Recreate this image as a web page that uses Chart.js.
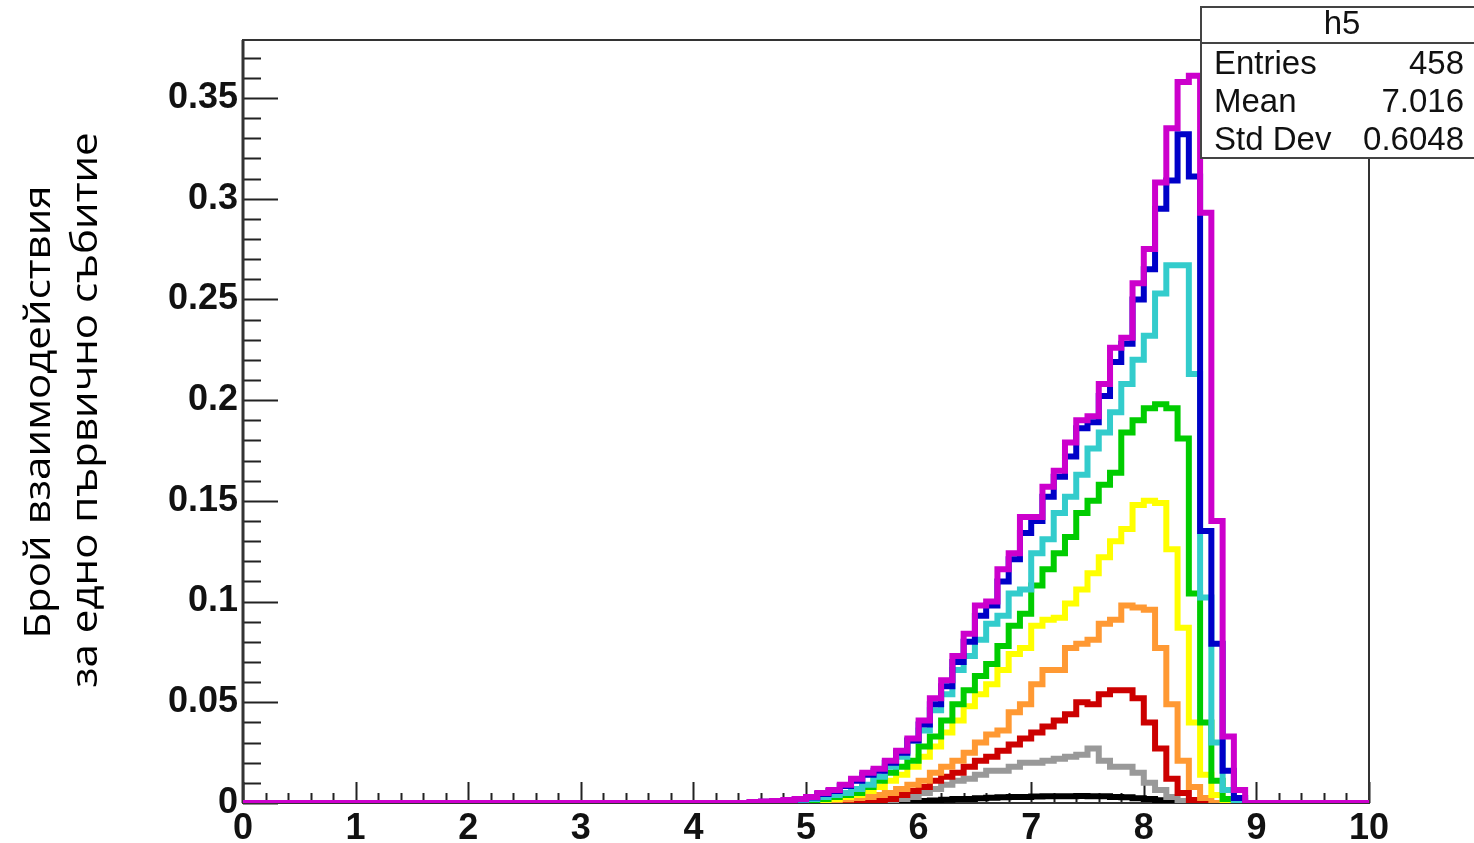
<!DOCTYPE html>
<html>
<head>
<meta charset="utf-8">
<title>h5</title>
<script src="https://cdn.jsdelivr.net/npm/chart.js@4.4.1/dist/chart.umd.min.js"></script>
<style>
    html, body { margin: 0; padding: 0; background: #fff; }
    canvas { display: block; }
</style>
</head>
<body>
<canvas id="h5Chart" width="1474" height="843"></canvas>
<script>
// histogram h5: 100 bins of 0.1 on [0, 10]; only bins 45..89 (x = 4.5 .. 9.0) are non-empty
const N_BINS = 100;
const BIN_WIDTH = 0.1;
const FIRST_BIN = 45;

const magentaBins = [
    0.0005, 0.0007, 0.001, 0.0015, 0.002,
    0.003, 0.005, 0.0065, 0.009, 0.012,
    0.015, 0.017, 0.021, 0.026, 0.032,
    0.041, 0.052, 0.061, 0.073, 0.084,
    0.098, 0.100, 0.116, 0.124, 0.142,
    0.142, 0.157, 0.165, 0.179, 0.190,
    0.192, 0.208, 0.226, 0.231, 0.258,
    0.275, 0.308, 0.335, 0.358, 0.361,
    0.293, 0.140, 0.033, 0.0065, 0
];
const blueBins = [
    0.0004, 0.0006, 0.0009, 0.0013, 0.0018,
    0.0027, 0.0045, 0.006, 0.0085, 0.011,
    0.014, 0.016, 0.020, 0.025, 0.031,
    0.039, 0.049, 0.058, 0.070, 0.080,
    0.093, 0.098, 0.110, 0.121, 0.134,
    0.140, 0.152, 0.162, 0.172, 0.186,
    0.189, 0.202, 0.219, 0.228, 0.250,
    0.265, 0.295, 0.309, 0.332, 0.311,
    0.135, 0.079, 0.016, 0.0025, 0
];
const cyanBins = [
    0.0002, 0.0003, 0.0005, 0.0008, 0.0012,
    0.002, 0.003, 0.004, 0.005, 0.007,
    0.009, 0.013, 0.018, 0.023, 0.031,
    0.036, 0.046, 0.054, 0.066, 0.073,
    0.081, 0.089, 0.093, 0.104, 0.106,
    0.124, 0.131, 0.144, 0.152, 0.163,
    0.176, 0.184, 0.194, 0.208, 0.220,
    0.232, 0.253, 0.267, 0.267, 0.213,
    0.102, 0.030, 0.0065, 0.001, 0
];
const greenBins = [
    0.0001, 0.0002, 0.0003, 0.0005, 0.0008,
    0.0012, 0.002, 0.003, 0.004, 0.005,
    0.008, 0.011, 0.015, 0.018, 0.021,
    0.028, 0.033, 0.041, 0.049, 0.056,
    0.063, 0.069, 0.078, 0.088, 0.094,
    0.108, 0.116, 0.124, 0.132, 0.144,
    0.150, 0.158, 0.164, 0.184, 0.190,
    0.196, 0.198, 0.196, 0.181, 0.104,
    0.040, 0.011, 0.002, 0, 0
];
const yellowBins = [
    0, 0.0001, 0.0002, 0.0003, 0.0005,
    0.0008, 0.0012, 0.002, 0.003, 0.004,
    0.006, 0.008, 0.011, 0.014, 0.018,
    0.023, 0.028, 0.035, 0.041, 0.048,
    0.054, 0.059, 0.066, 0.074, 0.077,
    0.088, 0.091, 0.092, 0.099, 0.106,
    0.114, 0.122, 0.130, 0.136, 0.148,
    0.150, 0.149, 0.126, 0.087, 0.040,
    0.014, 0.004, 0.0005, 0, 0
];
const orangeBins = [
    0, 0, 0.0001, 0.0002, 0.0003,
    0.0005, 0.0008, 0.0012, 0.0018, 0.0025,
    0.003, 0.004, 0.005, 0.007, 0.009,
    0.011, 0.015, 0.018, 0.021, 0.025,
    0.030, 0.034, 0.036, 0.045, 0.049,
    0.059, 0.066, 0.066, 0.077, 0.079,
    0.081, 0.089, 0.091, 0.098, 0.097,
    0.096, 0.077, 0.049, 0.021, 0.008,
    0.0025, 0, 0, 0, 0
];
const redBins = [
    0, 0, 0, 0, 0.0001,
    0.0002, 0.0003, 0.0004, 0.0006, 0.0008,
    0.001, 0.0015, 0.002, 0.004, 0.006,
    0.008, 0.011, 0.013, 0.015, 0.018,
    0.021, 0.023, 0.026, 0.029, 0.032,
    0.035, 0.038, 0.041, 0.044, 0.050,
    0.049, 0.054, 0.056, 0.056, 0.052,
    0.040, 0.027, 0.012, 0.005, 0.0015,
    0, 0, 0, 0, 0
];
const grayBins = [
    0, 0, 0, 0, 0,
    0, 0, 0, 0, 0,
    0.0003, 0.0006, 0.001, 0.002, 0.003,
    0.005, 0.007, 0.009, 0.011, 0.012,
    0.014, 0.016, 0.016, 0.018, 0.020,
    0.020, 0.021, 0.022, 0.023, 0.024,
    0.027, 0.021, 0.018, 0.018, 0.015,
    0.010, 0.0065, 0.003, 0.001, 0,
    0, 0, 0, 0, 0
];
const blackBins = [
    0, 0, 0, 0, 0,
    0, 0, 0, 0, 0,
    0.0001, 0.0002, 0.0003, 0.0005, 0.0008,
    0.001, 0.0013, 0.0016, 0.002, 0.002,
    0.0024, 0.0026, 0.0028, 0.003, 0.003,
    0.0032, 0.0033, 0.0034, 0.0033, 0.0035,
    0.0034, 0.0033, 0.003, 0.0028, 0.0024,
    0.002, 0.0014, 0.0008, 0.0004, 0.0001,
    0, 0, 0, 0, 0
];

// drawn top to bottom: Chart.js paints dataset 0 last
const seriesBins   = [magentaBins, blueBins, cyanBins, greenBins, yellowBins, orangeBins, redBins, grayBins, blackBins];
const seriesColors = ['#cc00cc', '#0000c8', '#33cccc', '#00cc00', '#ffff00', '#ff9933', '#cc0000', '#999999', '#000000'];

const xTicks = [0, 1, 2, 3, 4, 5, 6, 7, 8, 9, 10];
const yTicks = [0, 0.05, 0.1, 0.15, 0.2, 0.25, 0.3, 0.35];
const yTickLabels = ['0', '0.05', '0.1', '0.15', '0.2', '0.25', '0.3', '0.35'];
const Y_MAX = 0.3788;

const yTitleLines = ['Брой взаимодействия', 'за едно първично събитие'];
const statTitle = 'h5';
const statRows = [['Entries', '458'], ['Mean', '7.016'], ['Std Dev', '0.6048']];

function histPoints(bins) {
    const pts = [];
    for (let k = 0; k < N_BINS; k++) {
        const i = k - FIRST_BIN;
        const v = (i >= 0 && i < bins.length) ? bins[i] : 0;
        pts.push({ x: k * BIN_WIDTH, y: v });
    }
    pts.push({ x: N_BINS * BIN_WIDTH, y: 0 });
    return pts;
}

const frameAndTicks = {
    id: 'frameAndTicks',
    beforeDatasetsDraw(chart) {
        const { ctx, chartArea: a, scales: { x, y } } = chart;
        ctx.save();
        ctx.strokeStyle = '#222';
        ctx.lineWidth = 2;
        ctx.beginPath();
        // y ticks: minor every 0.01, major every 0.05
        for (let i = 0; i * 0.01 <= Y_MAX; i++) {
            const py = Math.round(y.getPixelForValue(i * 0.01)) + 0.5;
            const len = (i % 5 === 0) ? 35 : 18;
            ctx.moveTo(a.left, py);
            ctx.lineTo(a.left + len, py);
        }
        // x ticks: minor every 0.2, major every 1
        for (let i = 0; i <= 50; i++) {
            const px = Math.round(x.getPixelForValue(i * 0.2)) + 0.5;
            const len = (i % 5 === 0) ? 21 : 10;
            ctx.moveTo(px, a.bottom);
            ctx.lineTo(px, a.bottom - len);
        }
        ctx.stroke();

        // frame
        ctx.strokeStyle = '#333';
        ctx.lineWidth = 2;
        ctx.strokeRect(a.left, a.top, a.right - a.left, a.bottom - a.top);
        ctx.lineWidth = 3;
        ctx.beginPath();
        ctx.moveTo(a.left, a.top);
        ctx.lineTo(a.left, a.bottom);
        ctx.stroke();
        ctx.restore();
    },
    afterDraw(chart) {
        const ctx = chart.ctx;
        ctx.save();

        // y axis title, two rotated lines
        ctx.fillStyle = '#000';
        ctx.font = '42px "Open Sans"';
        ctx.textAlign = 'center';
        ctx.textBaseline = 'alphabetic';
        [[50, 412], [97, 410]].forEach(([bx, cy], i) => {
            ctx.save();
            ctx.translate(bx, cy);
            ctx.rotate(-Math.PI / 2);
            ctx.scale(1, 0.85);
            ctx.fillText(yTitleLines[i], 0, 0);
            ctx.restore();
        });

        // stats box
        const bx = 1201, by = 7, bw = 290, bh = 151;
        ctx.fillStyle = '#fff';
        ctx.fillRect(bx, by, bw, bh);
        ctx.strokeStyle = '#444';
        ctx.lineWidth = 2;
        ctx.strokeRect(bx, by, bw, bh);
        ctx.beginPath();
        ctx.moveTo(bx, 43);
        ctx.lineTo(bx + bw, 43);
        ctx.stroke();

        ctx.fillStyle = '#111';
        ctx.font = '33px "Liberation Sans"';
        ctx.textBaseline = 'middle';
        ctx.textAlign = 'center';
        ctx.fillText(statTitle, 1342, 25);
        statRows.forEach(([name, val], i) => {
            const ry = 65 + i * 38;
            ctx.textAlign = 'left';
            ctx.fillText(name, 1214, ry);
            ctx.textAlign = 'right';
            ctx.fillText(val, 1464, ry);
        });
        ctx.restore();
    }
};

const datasets = seriesBins.map((bins, i) => ({
    label: 'h5_' + i,
    data: histPoints(bins),
    borderColor: seriesColors[i],
    backgroundColor: seriesColors[i],
    borderWidth: 6,
    stepped: true,
    pointRadius: 0,
    tension: 0,
    fill: false,
    borderJoinStyle: 'miter',
    borderCapStyle: 'butt'
}));

new Chart(document.getElementById('h5Chart'), {
    type: 'line',
    data: { datasets: datasets },
    options: {
        responsive: false,
        animation: false,
        devicePixelRatio: 1,
        layout: { padding: { top: 40, right: 105, bottom: 0, left: 0 } },
        plugins: { legend: { display: false }, tooltip: { enabled: false } },
        scales: {
            x: {
                type: 'linear',
                min: 0,
                max: 10,
                afterBuildTicks: (s) => { s.ticks = xTicks.map(v => ({ value: v })); },
                afterFit: (s) => { s.height = 40; },
                grid: { display: false, drawTicks: false },
                border: { display: false },
                ticks: {
                    padding: 4,
                    maxRotation: 0,
                    color: '#111',
                    font: { family: 'Liberation Sans', weight: 'bold', size: 36 },
                    callback: (v) => String(v)
                }
            },
            y: {
                type: 'linear',
                min: 0,
                max: Y_MAX,
                afterBuildTicks: (s) => { s.ticks = yTicks.map(v => ({ value: v })); },
                afterFit: (s) => { s.width = 243; },
                grid: { display: false, drawTicks: false },
                border: { display: false },
                ticks: {
                    padding: 5,
                    color: '#111',
                    font: { family: 'Liberation Sans', weight: 'bold', size: 36 },
                    callback: (v, i) => yTickLabels[i]
                }
            }
        }
    },
    plugins: [frameAndTicks]
});
</script>
</body>
</html>
